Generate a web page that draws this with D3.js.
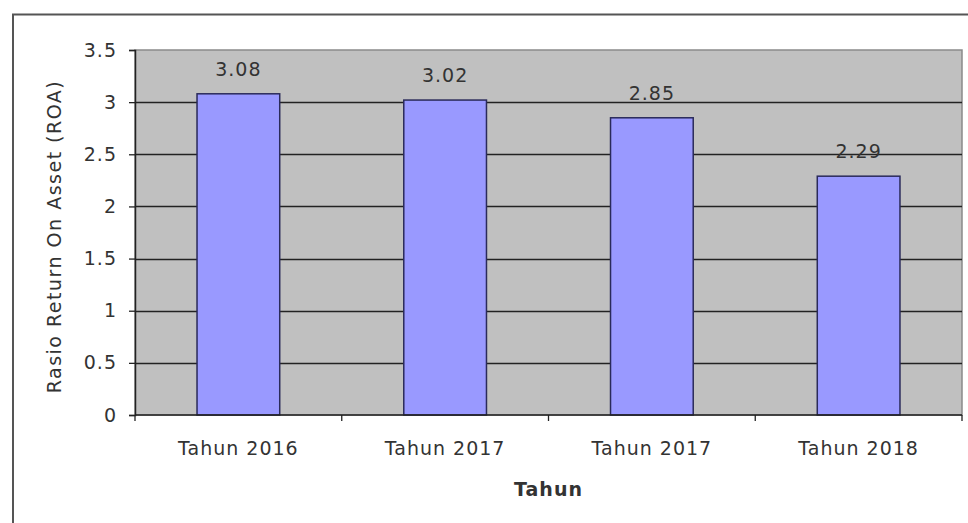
<!DOCTYPE html>
<html lang="en">
  <head>
    <meta charset="utf-8">
    <title>Rasio ROA</title>
    <script type="text/javascript" src="https://cdn.jsdelivr.net/npm/d3@7"></script>
    <style>
    body { margin: 0; background: #fff; }
    svg { display: block; font-family: "DejaVu Sans", Verdana, sans-serif; }
    .lbl { letter-spacing: 1px; }
    </style>
  </head>
  <body>
    <div id="chart"></div>
    <script type="text/javascript">

      // data
      var categories = ["Tahun 2016", "Tahun 2017", "Tahun 2017", "Tahun 2018"];
      var roaValues = [3.08, 3.02, 2.85, 2.29];
      var yTicks = [0, 0.5, 1, 1.5, 2, 2.5, 3, 3.5];

      var W = 968, H = 523;
      var margin = {top: 50, right: 6, bottom: 108, left: 135};
      var width = W - margin.left - margin.right,
          height = H - margin.top - margin.bottom;

      var svg = d3.select("#chart").append("svg")
          .attr("width", W)
          .attr("height", H);

      // outer chart frame (cut off at right and bottom)
      svg.append("path")
          .attr("d", "M13,523 V14.5 H968")
          .attr("fill", "none")
          .attr("stroke", "#555")
          .attr("stroke-width", 2);

      var g = svg.append("g")
          .attr("transform", "translate(" + margin.left + "," + margin.top + ")");

      var x = d3.scaleBand()
          .domain(d3.range(categories.length))
          .range([0, width])
          .paddingInner(0.6)
          .paddingOuter(0.3);

      var y = d3.scaleLinear()
          .domain([0, 3.5])
          .range([height, 0]);

      // plot background
      g.append("rect")
          .attr("width", width)
          .attr("height", height)
          .attr("fill", "#c0c0c0")
          .attr("stroke", "#8a8a8a")
          .attr("stroke-width", 1.5);

      // gridlines
      g.selectAll(".grid")
          .data(yTicks.filter(function(d) { return d > 0 && d < 3.5; }))
          .enter().append("line")
            .attr("x1", 0)
            .attr("x2", width)
            .attr("y1", function(d) { return Math.round(y(d)) + 0.5; })
            .attr("y2", function(d) { return Math.round(y(d)) + 0.5; })
            .attr("stroke", "#222")
            .attr("stroke-width", 1.3);

      // bars
      g.selectAll(".bar")
          .data(roaValues)
          .enter().append("rect")
            .attr("x", function(d, i) { return x(i); })
            .attr("y", function(d) { return y(d); })
            .attr("width", x.bandwidth())
            .attr("height", function(d) { return height - y(d); })
            .attr("fill", "#9999ff")
            .attr("stroke", "#2a2a5a")
            .attr("stroke-width", 1.5);

      // value labels
      g.selectAll(".val")
          .data(roaValues)
          .enter().append("text")
            .attr("class", "lbl")
            .attr("x", function(d, i) { return x(i) + x.bandwidth() / 2; })
            .attr("y", function(d) { return y(d) - 18; })
            .attr("text-anchor", "middle")
            .attr("font-size", 19)
            .attr("fill", "#333")
            .text(function(d) { return d; });

      // y axis
      var yAxis = d3.axisLeft(y)
          .tickValues(yTicks)
          .tickSize(6)
          .tickPadding(12)
          .tickFormat(function(d) { return d; });

      var ya = g.append("g").call(yAxis);
      ya.select(".domain").attr("stroke", "#222").attr("stroke-width", 1.5);
      ya.selectAll(".tick line").attr("stroke", "#222").attr("stroke-width", 1.3);
      ya.selectAll("text")
          .attr("class", "lbl")
          .attr("font-size", 19)
          .attr("fill", "#333")
          .attr("font-family", "DejaVu Sans, sans-serif");

      // x axis: tick marks at band boundaries, labels at band centres
      var edges = d3.range(categories.length + 1).map(function(i) { return i * width / categories.length; });
      var xa = g.append("g").attr("transform", "translate(0," + height + ")");
      xa.append("line")
          .attr("x1", 0).attr("x2", width)
          .attr("stroke", "#222").attr("stroke-width", 1.5);
      xa.selectAll(".xt")
          .data(edges)
          .enter().append("line")
            .attr("x1", function(d) { return d; })
            .attr("x2", function(d) { return d; })
            .attr("y1", 0).attr("y2", 6)
            .attr("stroke", "#222").attr("stroke-width", 1.3);
      xa.selectAll(".xl")
          .data(categories)
          .enter().append("text")
            .attr("class", "lbl")
            .attr("x", function(d, i) { return x(i) + x.bandwidth() / 2; })
            .attr("y", 40)
            .attr("text-anchor", "middle")
            .attr("font-size", 19)
            .attr("fill", "#333")
            .text(function(d) { return d; });

      // axis titles
      svg.append("text")
          .attr("class", "lbl")
          .attr("x", margin.left + width / 2)
          .attr("y", 496)
          .attr("text-anchor", "middle")
          .attr("font-size", 19)
          .attr("font-weight", "bold")
          .attr("fill", "#333")
          .text("Tahun");

      svg.append("text")
          .attr("transform", "translate(61," + (margin.top + height / 2 + 4) + ") rotate(-90)")
          .attr("text-anchor", "middle")
          .attr("font-size", 19)
          .attr("letter-spacing", "1.5px")
          .attr("fill", "#333")
          .text("Rasio Return On Asset (ROA)");

    </script>
  </body>
</html>
